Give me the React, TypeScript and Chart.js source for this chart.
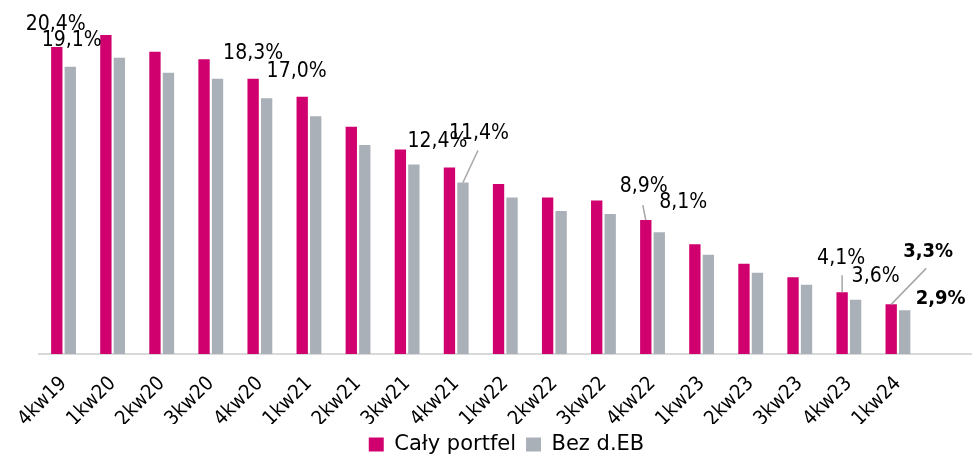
import React, { useEffect, useRef } from "react";
import { Chart, registerables } from "chart.js";

Chart.register(...registerables);

const categories = [
  "4kw19", "1kw20", "2kw20", "3kw20", "4kw20", "1kw21", "2kw21", "3kw21", "4kw21",
  "1kw22", "2kw22", "3kw22", "4kw22", "1kw23", "2kw23", "3kw23", "4kw23", "1kw24", "",
];

const calyPortfel = [
  20.4, 21.2, 20.1, 19.6, 18.3, 17.1, 15.1, 13.6, 12.4, 11.3, 10.4, 10.2, 8.9, 7.3, 6.0, 5.1, 4.1, 3.3, null,
];

const bezDEB = [
  19.1, 19.7, 18.7, 18.3, 17.0, 15.8, 13.9, 12.6, 11.4, 10.4, 9.5, 9.3, 8.1, 6.6, 5.4, 4.6, 3.6, 2.9, null,
];

const seriesNames = ["Cały portfel", "Bez d.EB"];
const seriesColors = ["#D0006F", "#A9B0B7"];

// which bars get a value label (dataset index, category index)
const labelledBars: [number, number][] = [
  [0, 0], [1, 0], [0, 4], [1, 4], [0, 8], [1, 8],
  [0, 12], [1, 12], [0, 16], [1, 16], [0, 17], [1, 17],
];

// label placement (style): text offset from bar top, optional leader start offset, bold
const labelStyles = [
  { dx: -1, dy: -23 },
  { dx: 1.5, dy: -26 },
  { dx: 0, dy: -25 },
  { dx: 30, dy: -27 },
  { dx: -12, dy: -26 },
  { dx: 16, dy: -49, lx: 15, ly: -32 },
  { dx: -2, dy: -34, lx: -3, ly: -15 },
  { dx: 24, dy: -30 },
  { dx: -1, dy: -34, lx: 0, ly: -17 },
  { dx: 20, dy: -23 },
  { dx: 37, dy: -53, lx: 35, ly: -36, bold: true },
  { dx: 36, dy: -12, bold: true },
];

const FONT = "'DejaVu Sans Condensed', 'DejaVu Sans', sans-serif";

const fmt = (v: number) => v.toFixed(1).replace(".", ",") + "%";

const valueLabelPlugin = {
  id: "valueLabels",
  afterDatasetsDraw(chart: any) {
    const ctx = chart.ctx;
    ctx.save();
    labelledBars.forEach(([ds, idx], i) => {
      const st: any = labelStyles[i];
      const el = chart.getDatasetMeta(ds).data[idx];
      const v = chart.data.datasets[ds].data[idx];
      if (!el || v == null) return;
      const x = el.x;
      const y = el.y;
      if (st.lx !== undefined) {
        ctx.strokeStyle = "#A6A6A6";
        ctx.lineWidth = 1.5;
        ctx.beginPath();
        ctx.moveTo(x + st.lx, y + st.ly);
        ctx.lineTo(x, y);
        ctx.stroke();
      }
      ctx.fillStyle = "#000000";
      ctx.font = st.bold ? "bold 20px " + FONT : "21px " + FONT;
      ctx.textAlign = "center";
      ctx.textBaseline = "middle";
      ctx.fillText(fmt(v), x + st.dx, y + st.dy);
    });
    ctx.restore();
  },
};

export default function App() {
  const ref = useRef<HTMLCanvasElement | null>(null);

  useEffect(() => {
    document.body.style.margin = "0";
    if (!ref.current) return;
    const chart = new Chart(ref.current, {
      type: "bar",
      data: {
        labels: categories,
        datasets: [
          {
            label: seriesNames[0],
            data: calyPortfel,
            backgroundColor: seriesColors[0],
            categoryPercentage: 0.55,
            barPercentage: 0.84,
          },
          {
            label: seriesNames[1],
            data: bezDEB,
            backgroundColor: seriesColors[1],
            categoryPercentage: 0.55,
            barPercentage: 0.84,
          },
        ],
      },
      options: {
        animation: false,
        responsive: true,
        maintainAspectRatio: false,
        layout: { padding: { left: 39, right: 0, top: 8, bottom: 0 } },
        plugins: {
          tooltip: { enabled: false },
          legend: {
            position: "bottom",
            labels: {
              color: "#000000",
              font: { family: "'DejaVu Sans'", size: 21 },
              boxWidth: 15,
              boxHeight: 14,
              padding: 10,
            },
          },
        },
        scales: {
          x: {
            grid: { display: false },
            border: { display: true, color: "#D9D9D9", width: 2 },
            ticks: {
              color: "#000000",
              font: { family: FONT, size: 20 },
              minRotation: 45,
              maxRotation: 45,
              autoSkip: false,
              padding: 10,
            },
            afterFit(scale: any) {
              scale.height = 70;
            },
          },
          y: {
            display: false,
            min: 0,
            max: 23,
          },
        },
      },
      plugins: [valueLabelPlugin],
    });
    return () => chart.destroy();
  }, []);

  return (
    <div style={{ width: 974, height: 456, overflow: "hidden", position: "relative" }}>
      <div style={{ width: 974, height: 465, position: "relative" }}>
        <canvas ref={ref} />
      </div>
    </div>
  );
}
